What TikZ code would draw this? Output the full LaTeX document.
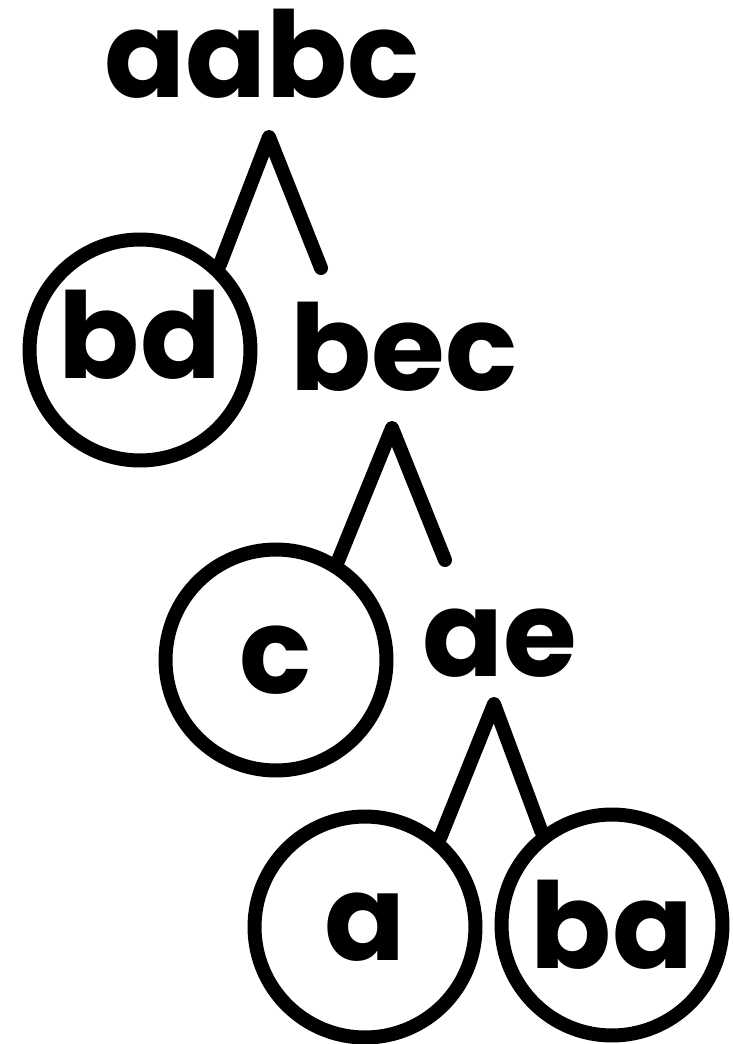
\documentclass[tikz,border=0pt]{standalone}
\usepackage{fontspec}
\setmainfont{Poppins}

\begin{document}
\begin{tikzpicture}[
      x=0.02cm, y=-0.02cm,
      word/.style={font=\fontsize{68}{68}\selectfont\bfseries, inner sep=0pt, anchor=base},
      leaf/.style={circle, draw, line width=0.28cm, minimum size=4.42cm, inner sep=0pt, font=\fontsize{68}{68}\selectfont\bfseries},
      branch/.style={line width=0.28cm, line cap=round, line join=round}
    ]
    \useasboundingbox (0,0) rectangle (733,1044);

    \node[word] (aabc) at (262,98) {aabc};
    \node[leaf, text depth=0.64cm] (bd) at (140,350) {bd};
    \node[word] (bec) at (404,390) {bec};
    \node[leaf] (c) at (276,660) {c};
    \node[word] (ae) at (500,676) {ae};
    \node[leaf] (a) at (365,927) {a};
    \node[leaf] (ba) at (612,925) {ba};

    \coordinate (top1) at (269,137);
    \coordinate (end1) at (321,268);
    \coordinate (top2) at (392,428);
    \coordinate (end2) at (445,560);
    \coordinate (top3) at (494,704);

    \draw[branch] (bd.47) -- (top1) -- (end1);
    \draw[branch] (c.58) -- (top2) -- (end2);
    \draw[branch] (a.50) -- (top3) -- (ba.127);
  \end{tikzpicture}
\end{document}
